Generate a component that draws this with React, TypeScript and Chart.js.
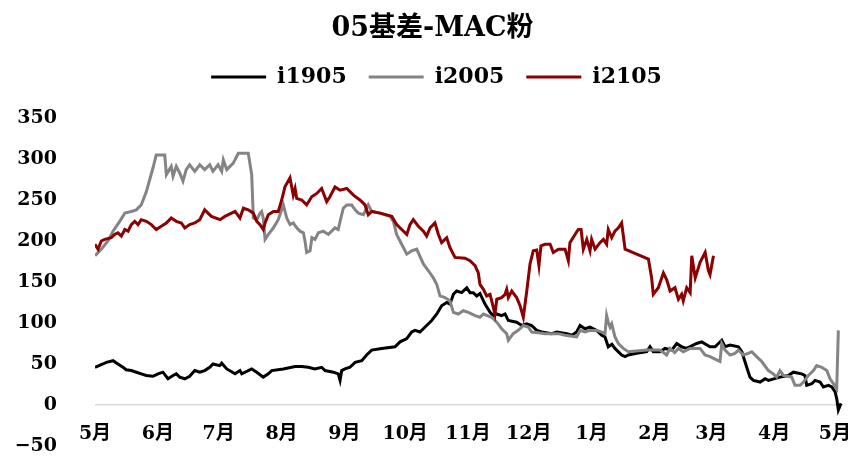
import React, { useEffect, useRef } from "react";
import { Chart, registerables } from "chart.js";

Chart.register(...registerables);

// x axis: calendar days counted from 1 May
const monthLabels = ["5月", "6月", "7月", "8月", "9月", "10月", "11月", "12月", "1月", "2月", "3月", "4月", "5月"];
const monthStartDays = [0, 31, 61, 92, 123, 153, 184, 214, 245, 276, 304, 335, 365];
const yTickValues = [-50, 0, 50, 100, 150, 200, 250, 300, 350];

const i1905Days = [0, 3.9, 5.6, 8.9, 11.3, 13.8, 15.4, 17.9, 20.4, 22.8, 25.3, 28.6, 31.1, 33.5, 36, 38.5, 40.1, 41.8, 44.3, 46.7, 49.2, 51.7, 54.1, 56.6, 58.2, 61.5, 62.5, 65, 69.1, 71.5, 72.4, 77.3, 79.8, 83, 85.5, 87.2, 92.9, 98.7, 102, 105.2, 108.5, 111.8, 113.5, 117.6, 120, 120.9, 121.7, 123.3, 125.8, 128.3, 131.6, 134, 136.5, 141.4, 148, 150.5, 153.8, 156.2, 157.9, 160.3, 163.6, 166.1, 168.6, 171, 173.5, 175.1, 176.8, 178.4, 180.9, 183.4, 185, 186.6, 188.3, 189.9, 192.4, 194.9, 196.5, 198.2, 200.6, 202.3, 203.9, 208, 210.5, 213, 215.4, 217.9, 220.4, 225.3, 227.8, 232.7, 235.2, 237.6, 239.3, 241.7, 244.2, 247.5, 250, 251.6, 253.2, 255, 256.5, 259.8, 261.5, 263.1, 267.2, 272.2, 273.8, 275.4, 278.7, 281.2, 284.5, 287, 289.4, 291.9, 296.8, 299.3, 303.4, 305.9, 309.2, 310.8, 313.3, 317.4, 319.1, 321.5, 323.1, 324.8, 328.1, 330.6, 332.2, 337.9, 342, 344.5, 348.6, 350.2, 351.1, 353.6, 355.2, 357.7, 359.3, 361.8, 363.5, 365.1, 365.9, 366.7, 368];
const i1905Values = [46, 50, 52, 54, 50, 46, 43, 42, 40, 38, 36, 35, 38, 40, 32, 36, 38, 34, 32, 35, 42, 40, 42, 46, 50, 48, 51, 44, 38, 42, 38, 44, 40, 34, 38, 42, 44, 47, 47, 46, 44, 46, 42, 40, 38, 30, 42, 44, 46, 52, 54, 61, 67, 69, 71, 77, 81, 89, 91, 89, 97, 103, 111, 121, 125, 123, 135, 139, 137, 143, 137, 137, 133, 136, 123, 113, 109, 111, 109, 111, 103, 101, 97, 99, 97, 91, 89, 87, 89, 87, 85, 89, 97, 93, 95, 91, 85, 83, 71, 74, 69, 61, 59, 61, 63, 65, 71, 65, 65, 69, 67, 75, 71, 69, 75, 77, 71, 71, 79, 71, 73, 71, 65, 46, 34, 30, 28, 32, 30, 34, 36, 40, 38, 36, 24, 26, 30, 28, 22, 24, 22, 16, 8, -6, 2];

const i2005Days = [0, 3.1, 6.4, 8.9, 12.2, 14.7, 17.9, 20.4, 22.8, 25.3, 27, 28.6, 30.2, 34.4, 35.2, 37.6, 38.5, 40.1, 41.8, 43.4, 45, 46.7, 49.2, 51.7, 54.1, 56.6, 58.2, 60.7, 62.5, 63.3, 65, 66.6, 68.2, 70.7, 75.6, 77.3, 78.1, 79.8, 81.4, 82.2, 83, 83.9, 85.5, 88, 90.4, 92.9, 94.6, 96.2, 97.8, 99.5, 101.1, 102.8, 103.6, 104.4, 106.1, 107, 108.5, 110.2, 112.6, 115.1, 118.4, 120, 120.9, 122.5, 124.2, 126.6, 128.3, 129.9, 132.4, 134.8, 136.5, 140.6, 145.5, 147.2, 148.8, 151.3, 153.8, 156.2, 158.7, 162, 164.4, 166.9, 168.6, 170.2, 172.7, 175.1, 176.8, 179.2, 181.7, 184.2, 187.5, 189.9, 191.6, 195.7, 198.2, 200.6, 203.1, 203.9, 206.3, 208.8, 211.3, 213.8, 215.4, 218.7, 222, 228.6, 231.9, 237.6, 239.3, 241.7, 244.2, 247.5, 250, 251.6, 252.4, 253.2, 254.1, 254.9, 256.5, 258.2, 260.6, 263.1, 272.2, 278.7, 282, 283.7, 286, 287.8, 290.2, 293.6, 298.5, 300.9, 303.4, 305.9, 308.3, 309.2, 310.8, 313.3, 315.7, 317.4, 319.8, 322.3, 324, 326.4, 328.9, 332.2, 334.6, 336.3, 337.9, 339.6, 343.7, 345.3, 347.8, 349.5, 351.9, 354.4, 356, 358.5, 361, 362.6, 364.3, 365.9, 366.7];
const i2005Values = [182, 190, 200, 212, 224, 234, 236, 238, 244, 260, 275, 289, 305, 305, 281, 291, 279, 291, 283, 273, 287, 293, 285, 293, 287, 293, 285, 293, 285, 299, 287, 291, 295, 307, 307, 281, 228, 226, 234, 236, 228, 202, 208, 216, 226, 244, 228, 220, 222, 216, 212, 210, 200, 186, 188, 204, 202, 210, 212, 208, 216, 214, 224, 240, 244, 244, 238, 234, 232, 244, 236, 234, 230, 224, 208, 196, 184, 188, 190, 172, 164, 155, 147, 133, 131, 127, 113, 111, 115, 113, 109, 107, 111, 107, 101, 93, 87, 79, 87, 91, 97, 95, 89, 88, 87, 87, 85, 83, 91, 89, 91, 91, 89, 87, 109, 101, 95, 99, 83, 75, 69, 65, 67, 67, 61, 69, 64, 69, 65, 69, 69, 61, 59, 56, 53, 75, 67, 61, 63, 67, 61, 63, 65, 59, 53, 42, 38, 34, 42, 36, 34, 24, 24, 28, 36, 42, 48, 46, 42, 32, 26, 20, 91];

const i2105Days = [0, 1.5, 3.1, 4.8, 8, 9.7, 11.3, 13, 14.7, 16.3, 17.9, 19.6, 21.2, 22.8, 25.3, 27.8, 30.2, 32.7, 35.2, 37.6, 40.1, 42.6, 44.3, 46.7, 49.2, 51.7, 54.1, 57.4, 61.7, 64.1, 69.1, 71.5, 73.2, 75.6, 78.1, 79.8, 81.4, 83, 83.9, 85.5, 88, 90.4, 92.1, 93.7, 96.2, 97.8, 98.7, 99.5, 102, 104.4, 106.9, 109.4, 111.8, 114.3, 115.9, 118.4, 120.9, 124.2, 127.5, 130.7, 133.2, 134.8, 136.5, 140.6, 146.4, 148.8, 151.3, 153.8, 155.4, 157, 159.5, 162, 163.6, 165.3, 167.7, 169.4, 171, 173.5, 175.1, 177.6, 182.5, 185, 187.5, 189.1, 189.9, 191.6, 193.2, 194.9, 197.3, 198.2, 200.6, 202.3, 203.1, 203.9, 205.6, 208, 209.7, 211.3, 213, 214.6, 216.2, 217.9, 219, 220, 222, 224.5, 226.1, 228.6, 231.9, 233.5, 234.3, 236.8, 238.4, 239.8, 240.9, 242.6, 244.2, 245, 246.7, 249.1, 250.8, 252.4, 253.2, 254.9, 256.5, 258.2, 259.8, 261.5, 267.2, 273, 274.6, 275.4, 277.9, 280.4, 282, 283.7, 286.1, 287.8, 289.4, 290.2, 291.9, 293.6, 294.4, 296.1, 298.5, 301, 302.6, 303.4, 305.1];
const i2105Values = [196, 190, 200, 202, 204, 208, 210, 206, 214, 212, 220, 224, 220, 226, 224, 220, 214, 218, 222, 228, 224, 222, 216, 220, 222, 226, 238, 230, 226, 230, 236, 228, 240, 238, 234, 224, 220, 214, 222, 232, 236, 236, 250, 266, 277, 256, 264, 252, 250, 244, 254, 258, 264, 248, 254, 266, 262, 264, 256, 250, 244, 232, 236, 234, 230, 220, 214, 208, 220, 226, 218, 212, 206, 216, 222, 208, 198, 204, 192, 180, 179, 176, 170, 161, 147, 141, 133, 135, 111, 129, 131, 135, 141, 131, 139, 131, 121, 107, 139, 172, 188, 189, 170, 194, 196, 196, 186, 190, 190, 176, 198, 208, 214, 214, 190, 202, 188, 202, 190, 198, 202, 196, 214, 204, 212, 216, 222, 190, 184, 178, 155, 135, 143, 161, 153, 139, 143, 129, 135, 127, 143, 137, 182, 155, 174, 186, 164, 159, 182];

const seriesNames = ["i1905", "i2005", "i2105"];
const seriesColors = ["#000000", "#848484", "#8B0000"];

const pairs = (days: number[], vals: number[]) => days.map((d, i) => ({ x: d, y: vals[i] }));

const serifFamily = '"DejaVu Serif", "Noto Sans CJK SC", serif';
const tickFont = { family: serifFamily, size: 19, weight: "bold" as const };

// extra space beneath the legend, and title/legend centred a little right of the canvas middle
const headerTweaks = {
  id: "headerTweaks",
  beforeInit(chart: any) {
    if (!chart.legend) return;
    const origFit = chart.legend.fit;
    chart.legend.fit = function () {
      origFit.call(this);
      this.height += 20;
    };
  },
  afterLayout(chart: any) {
    if (chart.titleBlock) {
      chart.titleBlock.left += 11;
      chart.titleBlock.right += 11;
    }
    if (chart.legend) {
      chart.legend.left += 15;
      chart.legend.right += 15;
    }
  },
};

export default function App() {
  const canvasRef = useRef<HTMLCanvasElement | null>(null);

  useEffect(() => {
    if (!canvasRef.current) return;
    const allDays = [i1905Days, i2005Days, i2105Days];
    const allVals = [i1905Values, i2005Values, i2105Values];
    const chart = new Chart(canvasRef.current, {
      type: "line",
      data: {
        datasets: seriesNames.map((name, k) => ({
          label: name,
          data: pairs(allDays[k], allVals[k]),
          borderColor: seriesColors[k],
          backgroundColor: seriesColors[k],
          borderWidth: 3,
          pointRadius: 0,
          pointStyle: "line",
          tension: 0,
          fill: false,
          order: 2 - k,
        })),
      },
      plugins: [headerTweaks],
      options: {
        animation: false,
        responsive: false,
        maintainAspectRatio: false,
        layout: { padding: { left: 0, right: 18, top: 0, bottom: 11 } },
        plugins: {
          title: {
            display: true,
            text: "05基差-MAC粉",
            color: "#000",
            font: { family: serifFamily, size: 27, weight: "bold", lineHeight: 1 },
            padding: { top: 15, bottom: 2 },
          },
          legend: {
            display: true,
            labels: {
              color: "#000",
              usePointStyle: true,
              pointStyleWidth: 55,
              boxHeight: 22,
              padding: 22,
              font: { family: serifFamily, size: 22, weight: "bold" },
              sort: (a: any, b: any) => a.datasetIndex - b.datasetIndex,
            },
          },
          tooltip: { enabled: false },
        },
        scales: {
          x: {
            type: "linear",
            position: { y: 0 },
            min: 0,
            max: 369,
            grid: { display: false, drawTicks: false },
            border: { display: false },
            afterBuildTicks: (scale: any) => {
              scale.ticks = monthStartDays.map((v) => ({ value: v }));
            },
            afterFit: (scale: any) => {
              scale.paddingLeft = 0;
              scale.paddingRight = 0;
            },
            ticks: {
              autoSkip: false,
              maxRotation: 0,
              padding: 18,
              color: "#000",
              font: tickFont,
              callback: (_v: any, i: number) => monthLabels[i],
            },
          },
          y: {
            type: "linear",
            min: -50,
            max: 350,
            afterBuildTicks: (scale: any) => {
              scale.ticks = yTickValues.map((v) => ({ value: v }));
            },
            afterFit: (scale: any) => {
              scale.width = 95;
              scale.paddingTop = 0;
              scale.paddingBottom = 0;
            },
            grid: {
              display: true,
              drawTicks: false,
              lineWidth: 1.5,
              color: (ctx: any) => (ctx.tick && ctx.tick.value === 0 ? "#d9d9d9" : "rgba(0,0,0,0)"),
            },
            border: { display: false },
            ticks: {
              padding: 38,
              color: "#000",
              font: tickFont,
              callback: (v: any) => (Number(v) < 0 ? "\u2212" + Math.abs(Number(v)) : String(v)),
            },
          },
        },
      } as any,
    });
    return () => chart.destroy();
  }, []);

  return (
    <div style={{ position: "absolute", left: 0, top: 0, width: 861, height: 457, background: "#fff" }}>
      <canvas ref={canvasRef} width={861} height={457} style={{ display: "block", width: 861, height: 457 }} />
    </div>
  );
}
